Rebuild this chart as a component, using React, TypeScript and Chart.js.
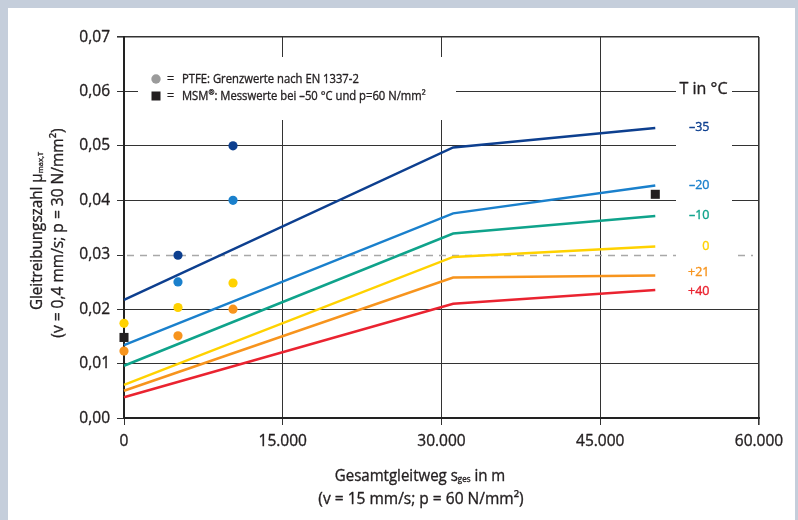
import React, { useEffect, useRef } from "react";
import { Chart, registerables } from "chart.js";
Chart.register(...registerables);

const FONT = '"Open Sans", "Noto Sans", sans-serif';
const WEIGHT = 500;
const INK = "#231f20";

// ---- data ----
const xTicks = [0, 15000, 30000, 45000, 60000];
const yTicks = [0, 0.01, 0.02, 0.03, 0.04, 0.05, 0.06, 0.07];

const tempLabels = ["–35", "–20", "–10", "0", "+21", "+40"];
const tempColors = ["#0d3f8f", "#1a80cc", "#0fa38b", "#ffd200", "#f7941d", "#ea2330"];
const lineX = [0, 31100, 50200];
const muM35 = [0.0217, 0.0497, 0.0533];
const muM20 = [0.0134, 0.0376, 0.0427];
const muM10 = [0.0096, 0.0339, 0.0371];
const mu0 = [0.0061, 0.0296, 0.0315];
const muP21 = [0.005, 0.0258, 0.0262];
const muP40 = [0.0038, 0.021, 0.0235];
const tempLabelY = [0.0534, 0.0427, 0.0372, 0.0315, 0.0267, 0.0233];

const ptfeX = [0, 0, 5100, 5100, 5100, 5100, 10300, 10300, 10300, 10300];
const ptfeY = [0.0174, 0.0123, 0.0299, 0.025, 0.0203, 0.0151, 0.05, 0.04, 0.0248, 0.02];
const ptfeTemp = [3, 4, 0, 1, 3, 4, 0, 1, 3, 4];

const msmX = [0, 50200];
const msmY = [0.0148, 0.0411];

const refLine = 0.03;

type Run = { t: string; size: number; dy?: number };

function drawRuns(
  ctx: CanvasRenderingContext2D,
  runs: Run[],
  x: number,
  y: number,
  align: "left" | "center" | "right",
  color: string,
  sx = 1,
  rot = 0
) {
  ctx.save();
  ctx.translate(x, y);
  if (rot) ctx.rotate(rot);
  ctx.scale(sx, 1);
  ctx.fillStyle = color;
  ctx.strokeStyle = color;
  ctx.lineWidth = 0.35;
  ctx.lineJoin = "round";
  ctx.textBaseline = "middle";
  ctx.textAlign = "left";
  let total = 0;
  for (const r of runs) {
    ctx.font = `${WEIGHT} ${r.size}px ${FONT}`;
    total += ctx.measureText(r.t).width;
  }
  let cx = align === "center" ? -total / 2 : align === "right" ? -total : 0;
  for (const r of runs) {
    ctx.font = `${WEIGHT} ${r.size}px ${FONT}`;
    ctx.fillText(r.t, cx, r.dy || 0);
    ctx.strokeText(r.t, cx, r.dy || 0);
    cx += ctx.measureText(r.t).width;
  }
  ctx.restore();
}

const fmtX = (v: number) => String(v).replace(/\B(?=(\d{3})+(?!\d))/g, ".");
const fmtY = (v: number) => v.toFixed(2).replace(".", ",");

const deco = {
  id: "deco",
  beforeDraw(chart: any) {
    const { ctx, width, height } = chart;
    ctx.save();
    ctx.fillStyle = "#c5cedb";
    ctx.fillRect(0, 0, width, height);
    ctx.fillStyle = "#ffffff";
    ctx.fillRect(8, 8, 787, height - 8);
    ctx.restore();
  },
  beforeDatasetsDraw(chart: any) {
    const { ctx, chartArea: ca } = chart;
    const ys = chart.scales.y;
    const yy = Math.round(ys.getPixelForValue(refLine)) + 0.5;
    ctx.save();
    ctx.strokeStyle = "#a8a8a8";
    ctx.lineWidth = 1.6;
    ctx.setLineDash([7, 6]);
    ctx.beginPath();
    ctx.moveTo(ca.left + 3, yy);
    ctx.lineTo(ca.right - 6, yy);
    ctx.stroke();
    ctx.setLineDash([]);
    ctx.strokeStyle = "#333";
    ctx.lineWidth = 1;
    ctx.beginPath();
    ctx.moveTo(ca.left - 7, yy);
    ctx.lineTo(ca.left, yy);
    ctx.stroke();
    // white gaps behind the legend and the temperature labels
    ctx.fillStyle = "#ffffff";
    ctx.fillRect(138, 57, 318, 63);
    ctx.fillRect(676, 78, 56, 222);
    ctx.restore();
  },
  afterDraw(chart: any) {
    const { ctx } = chart;
    const xs = chart.scales.x;
    const ys = chart.scales.y;
    // tick labels
    for (const v of yTicks) {
      drawRuns(ctx, [{ t: fmtY(v), size: 16 }], 110, ys.getPixelForValue(v), "right", INK, 0.97);
    }
    for (const v of xTicks) {
      drawRuns(ctx, [{ t: fmtX(v), size: 16 }], xs.getPixelForValue(v), 441, "center", INK, 0.97);
    }
    // axis titles
    drawRuns(
      ctx,
      [
        { t: "Gesamtgleitweg s", size: 16 },
        { t: "ges", size: 8.5, dy: 4 },
        { t: " in m", size: 16 },
      ],
      420,
      476,
      "center",
      INK,
      0.94
    );
    drawRuns(ctx, [{ t: "(v = 15 mm/s; p = 60 N/mm²)", size: 16 }], 421, 499, "center", INK, 0.97);
    drawRuns(
      ctx,
      [
        { t: "Gleitreibungszahl μ", size: 16 },
        { t: "max,T", size: 8, dy: 4 },
      ],
      37,
      231,
      "center",
      INK,
      0.95,
      -Math.PI / 2
    );
    drawRuns(ctx, [{ t: "(v = 0,4 mm/s; p = 30 N/mm²)", size: 16 }], 58, 233, "center", INK, 0.97, -Math.PI / 2);

    // legend
    ctx.save();
    ctx.fillStyle = "#9b9b9b";
    ctx.beginPath();
    ctx.arc(156, 79, 4.7, 0, Math.PI * 2);
    ctx.fill();
    ctx.fillStyle = INK;
    ctx.fillRect(151.5, 91.5, 9, 9);
    ctx.restore();
    drawRuns(ctx, [{ t: "=", size: 12.5 }], 167, 79, "left", INK);
    drawRuns(ctx, [{ t: "=", size: 12.5 }], 167, 96, "left", INK);
    drawRuns(ctx, [{ t: "PTFE: Grenzwerte nach EN 1337-2", size: 12.5 }], 182, 79, "left", INK, 0.9);
    drawRuns(
      ctx,
      [
        { t: "MSM", size: 12.5 },
        { t: "®", size: 8, dy: -3 },
        { t: ": Messwerte bei –50 °C und p=60 N/mm²", size: 12.5 },
      ],
      182,
      96,
      "left",
      INK,
      0.9
    );

    // temperature labels
    drawRuns(ctx, [{ t: "T in °C", size: 16 }], 703.5, 89, "center", INK);
    tempLabels.forEach((lab, i) => {
      drawRuns(ctx, [{ t: lab, size: 12.5 }], 709.5, ys.getPixelForValue(tempLabelY[i]), "right", tempColors[i]);
    });
  },
};

export default function App() {
  const ref = useRef<HTMLCanvasElement | null>(null);
  useEffect(() => {
    document.body.style.margin = "0";
    document.body.style.overflow = "hidden";
    const canvas = ref.current!;
    const series = [muM35, muM20, muM10, mu0, muP21, muP40];
    const lineSets = series.map((ys, i) => ({
      label: tempLabels[i],
      data: lineX.map((x, j) => ({ x, y: ys[j] })),
      showLine: true,
      borderColor: tempColors[i],
      backgroundColor: tempColors[i],
      borderWidth: 2.5,
      pointRadius: 0,
      fill: false,
      clip: false as any,
    }));
    const chart = new Chart(canvas, {
      type: "scatter",
      data: {
        datasets: [
          {
            label: "MSM",
            data: msmX.map((x, i) => ({ x, y: msmY[i] })),
            pointStyle: "rect",
            pointRadius: 6.4,
            pointBackgroundColor: INK,
            pointBorderWidth: 0,
            showLine: false,
            clip: false as any,
          },
          {
            label: "PTFE",
            data: ptfeX.map((x, i) => ({ x, y: ptfeY[i] })),
            pointStyle: "circle",
            pointRadius: 4.6,
            pointBackgroundColor: ptfeTemp.map((t) => tempColors[t]),
            pointBorderWidth: 0,
            showLine: false,
            clip: false as any,
          },
          ...lineSets,
        ] as any,
      },
      options: {
        responsive: false,
        animation: false,
        devicePixelRatio: 1,
        events: [],
        layout: { padding: { left: 0, top: 37, right: 39, bottom: 0 } },
        plugins: {
          legend: { display: false },
          tooltip: { enabled: false },
          title: { display: false },
        },
        scales: {
          x: {
            type: "linear",
            min: 0,
            max: 60000,
            afterBuildTicks: (s: any) => {
              s.ticks = xTicks.map((v) => ({ value: v }));
            },
            ticks: { display: false },
            grid: {
              color: "#333",
              lineWidth: (c: any) => (c.tick && c.tick.value === 60000 ? 1.6 : 1),
              drawTicks: true,
              tickLength: 7,
            },
            border: { display: true, color: "#222", width: 2 },
            afterFit: (s: any) => {
              s.height = 102;
            },
          },
          y: {
            type: "linear",
            min: 0,
            max: 0.07,
            afterBuildTicks: (s: any) => {
              s.ticks = yTicks.map((v) => ({ value: v }));
            },
            ticks: { display: false },
            grid: {
              color: (c: any) =>
                c.tick && Math.abs(c.tick.value - refLine) < 1e-9 ? "rgba(0,0,0,0)" : "#333",
              lineWidth: (c: any) => (c.tick && Math.abs(c.tick.value - 0.07) < 1e-9 ? 1.6 : 1),
              drawTicks: true,
              tickLength: 7,
            },
            border: { display: true, color: "#222", width: 2 },
            afterFit: (s: any) => {
              s.width = 124;
            },
          },
        },
      } as any,
      plugins: [deco],
    });
    return () => chart.destroy();
  }, []);
  return <canvas ref={ref} width={798} height={520} style={{ display: "block" }} />;
}
